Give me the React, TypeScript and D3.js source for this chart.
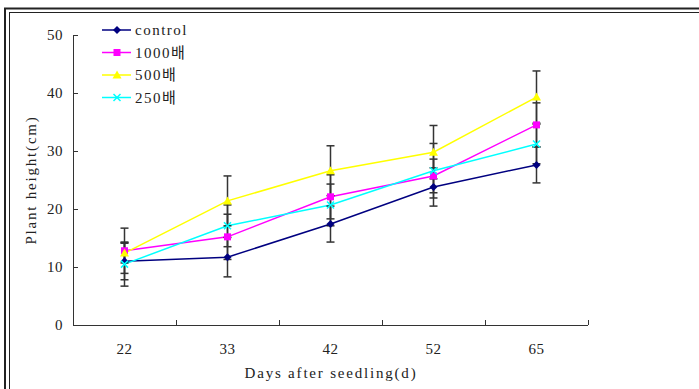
import React from 'react';
import * as d3 from 'd3';

const days = ['22', '33', '42', '52', '65'];
const seriesNames = ['control', '1000배', '500배', '250배'];
const control = [11.0, 11.7, 17.4, 23.8, 27.6];
const x1000 = [12.8, 15.2, 22.1, 25.7, 34.5];
const x500 = [12.4, 21.4, 26.6, 29.8, 39.3];
const x250 = [10.5, 17.1, 20.7, 26.6, 31.2];
const controlErr = [3.2, 3.4, 3.1, 3.3, 3.1];
const x1000Err = [3.9, 3.9, 3.8, 2.9, 3.8];
const x500Err = [1.7, 4.3, 4.3, 4.6, 4.5];
const x250Err = [3.8, 3.6, 3.6, 4.7, 3.4];
const yTicks = [0, 10, 20, 30, 40, 50];

const colors = ['#000080', '#ff00ff', '#ffff00', '#00ffff'];
const shapes = ['diamond', 'square', 'triangle', 'cross'];
const values = [control, x1000, x500, x250];
const errors = [controlErr, x1000Err, x500Err, x250Err];

// SimSun-like look: thin serif glyphs, spaced out
const font = '"Liberation Serif", "Noto Sans CJK KR", serif';

const Marker = ({ shape, x, y, color }: { shape: string; x: number; y: number; color: string }) => {
  if (shape === 'diamond') {
    return <path d={`M${x},${y - 4}L${x + 4},${y}L${x},${y + 4}L${x - 4},${y}Z`} fill={color} />;
  }
  if (shape === 'square') {
    return <rect x={x - 3.5} y={y - 3.5} width={7} height={7} fill={color} />;
  }
  if (shape === 'triangle') {
    return <path d={`M${x},${y - 4.5}L${x + 4.5},${y + 3.5}L${x - 4.5},${y + 3.5}Z`} fill={color} />;
  }
  return (
    <path d={`M${x - 3.5},${y - 3.5}L${x + 3.5},${y + 3.5}M${x - 3.5},${y + 3.5}L${x + 3.5},${y - 3.5}`}
      stroke={color} strokeWidth={1.5} />
  );
};

export default function App() {
  const left = 73, right = 588, top = 35, bottom = 325;
  const x = d3.scaleBand().domain(days).range([left, right]);
  const y = d3.scaleLinear().domain([0, 50]).range([bottom, top]);
  const cx = (d: string) => (x(d) as number) + x.bandwidth() / 2;

  const line = d3.line<number>()
    .x((_, i) => cx(days[i]))
    .y(v => y(v));

  return (
    <svg width={699} height={389} style={{ position: 'absolute', left: 0, top: 0, background: '#fff' }}>
      {/* frame */}
      <rect x={5} y={8.5} width={760} height={420} fill="none" stroke="#222" strokeWidth={2} />
      <rect x={9.5} y={12.5} width={760} height={420} fill="none" stroke="#222" strokeWidth={1} />

      {/* axes */}
      <g stroke="#333" strokeWidth={1} fill="none">
        <line x1={left + 0.5} x2={left + 0.5} y1={top} y2={bottom} />
        <line x1={left} x2={right} y1={bottom + 0.5} y2={bottom + 0.5} />
        {yTicks.map(t => (
          <line key={t} x1={left} x2={left + 5} y1={Math.round(y(t)) + 0.5} y2={Math.round(y(t)) + 0.5} />
        ))}
        {days.map(d => (
          <line key={d} x1={Math.round((x(d) as number) + x.bandwidth()) + 0.5} x2={Math.round((x(d) as number) + x.bandwidth()) + 0.5}
            y1={bottom} y2={bottom - 5} />
        ))}
      </g>
      <g fontFamily={font} fontSize={15} fill="#222" letterSpacing={0.5}>
        {yTicks.map(t => (
          <text key={t} x={63} y={y(t)} dy="0.35em" textAnchor="end">{t}</text>
        ))}
        {days.map(d => (
          <text key={d} x={cx(d)} y={354} textAnchor="middle">{d}</text>
        ))}
        <text x={331} y={378} textAnchor="middle" letterSpacing={1.8}>Days after seedling(d)</text>
        <text transform={`translate(36,${(top + bottom) / 2}) rotate(-90)`} textAnchor="middle" letterSpacing={1.8}>Plant height(cm)</text>
      </g>

      {/* lines */}
      {values.map((vals, s) => (
        <path key={s} d={line(vals) as string} fill="none" stroke={colors[s]} strokeWidth={1.5} />
      ))}

      {/* error bars */}
      <g stroke="#111" strokeWidth={1.5} opacity={0.85}>
        {values.map((vals, s) => vals.map((v, i) => {
          const px = cx(days[i]);
          const hi = y(v + errors[s][i]);
          const lo = y(v - errors[s][i]);
          return (
            <g key={`${s}-${i}`}>
              <line x1={px} x2={px} y1={hi} y2={lo} />
              <line x1={px - 4} x2={px + 4} y1={hi} y2={hi} />
              <line x1={px - 4} x2={px + 4} y1={lo} y2={lo} />
            </g>
          );
        }))}
      </g>

      {/* markers */}
      {values.map((vals, s) => vals.map((v, i) => (
        <Marker key={`${s}-${i}`} shape={shapes[s]} x={cx(days[i])} y={y(v)} color={colors[s]} />
      )))}

      {/* legend */}
      {seriesNames.map((name, s) => {
        const ly = 30 + s * 22.5;
        return (
          <g key={name}>
            <line x1={102} x2={131} y1={ly} y2={ly} stroke={colors[s]} strokeWidth={1.5} />
            <Marker shape={shapes[s]} x={117} y={ly} color={colors[s]} />
            <text x={135} y={ly} dy="0.35em" fontFamily={font} fontSize={15} letterSpacing={1.5} fill="#222">{name}</text>
          </g>
        );
      })}
    </svg>
  );
}
